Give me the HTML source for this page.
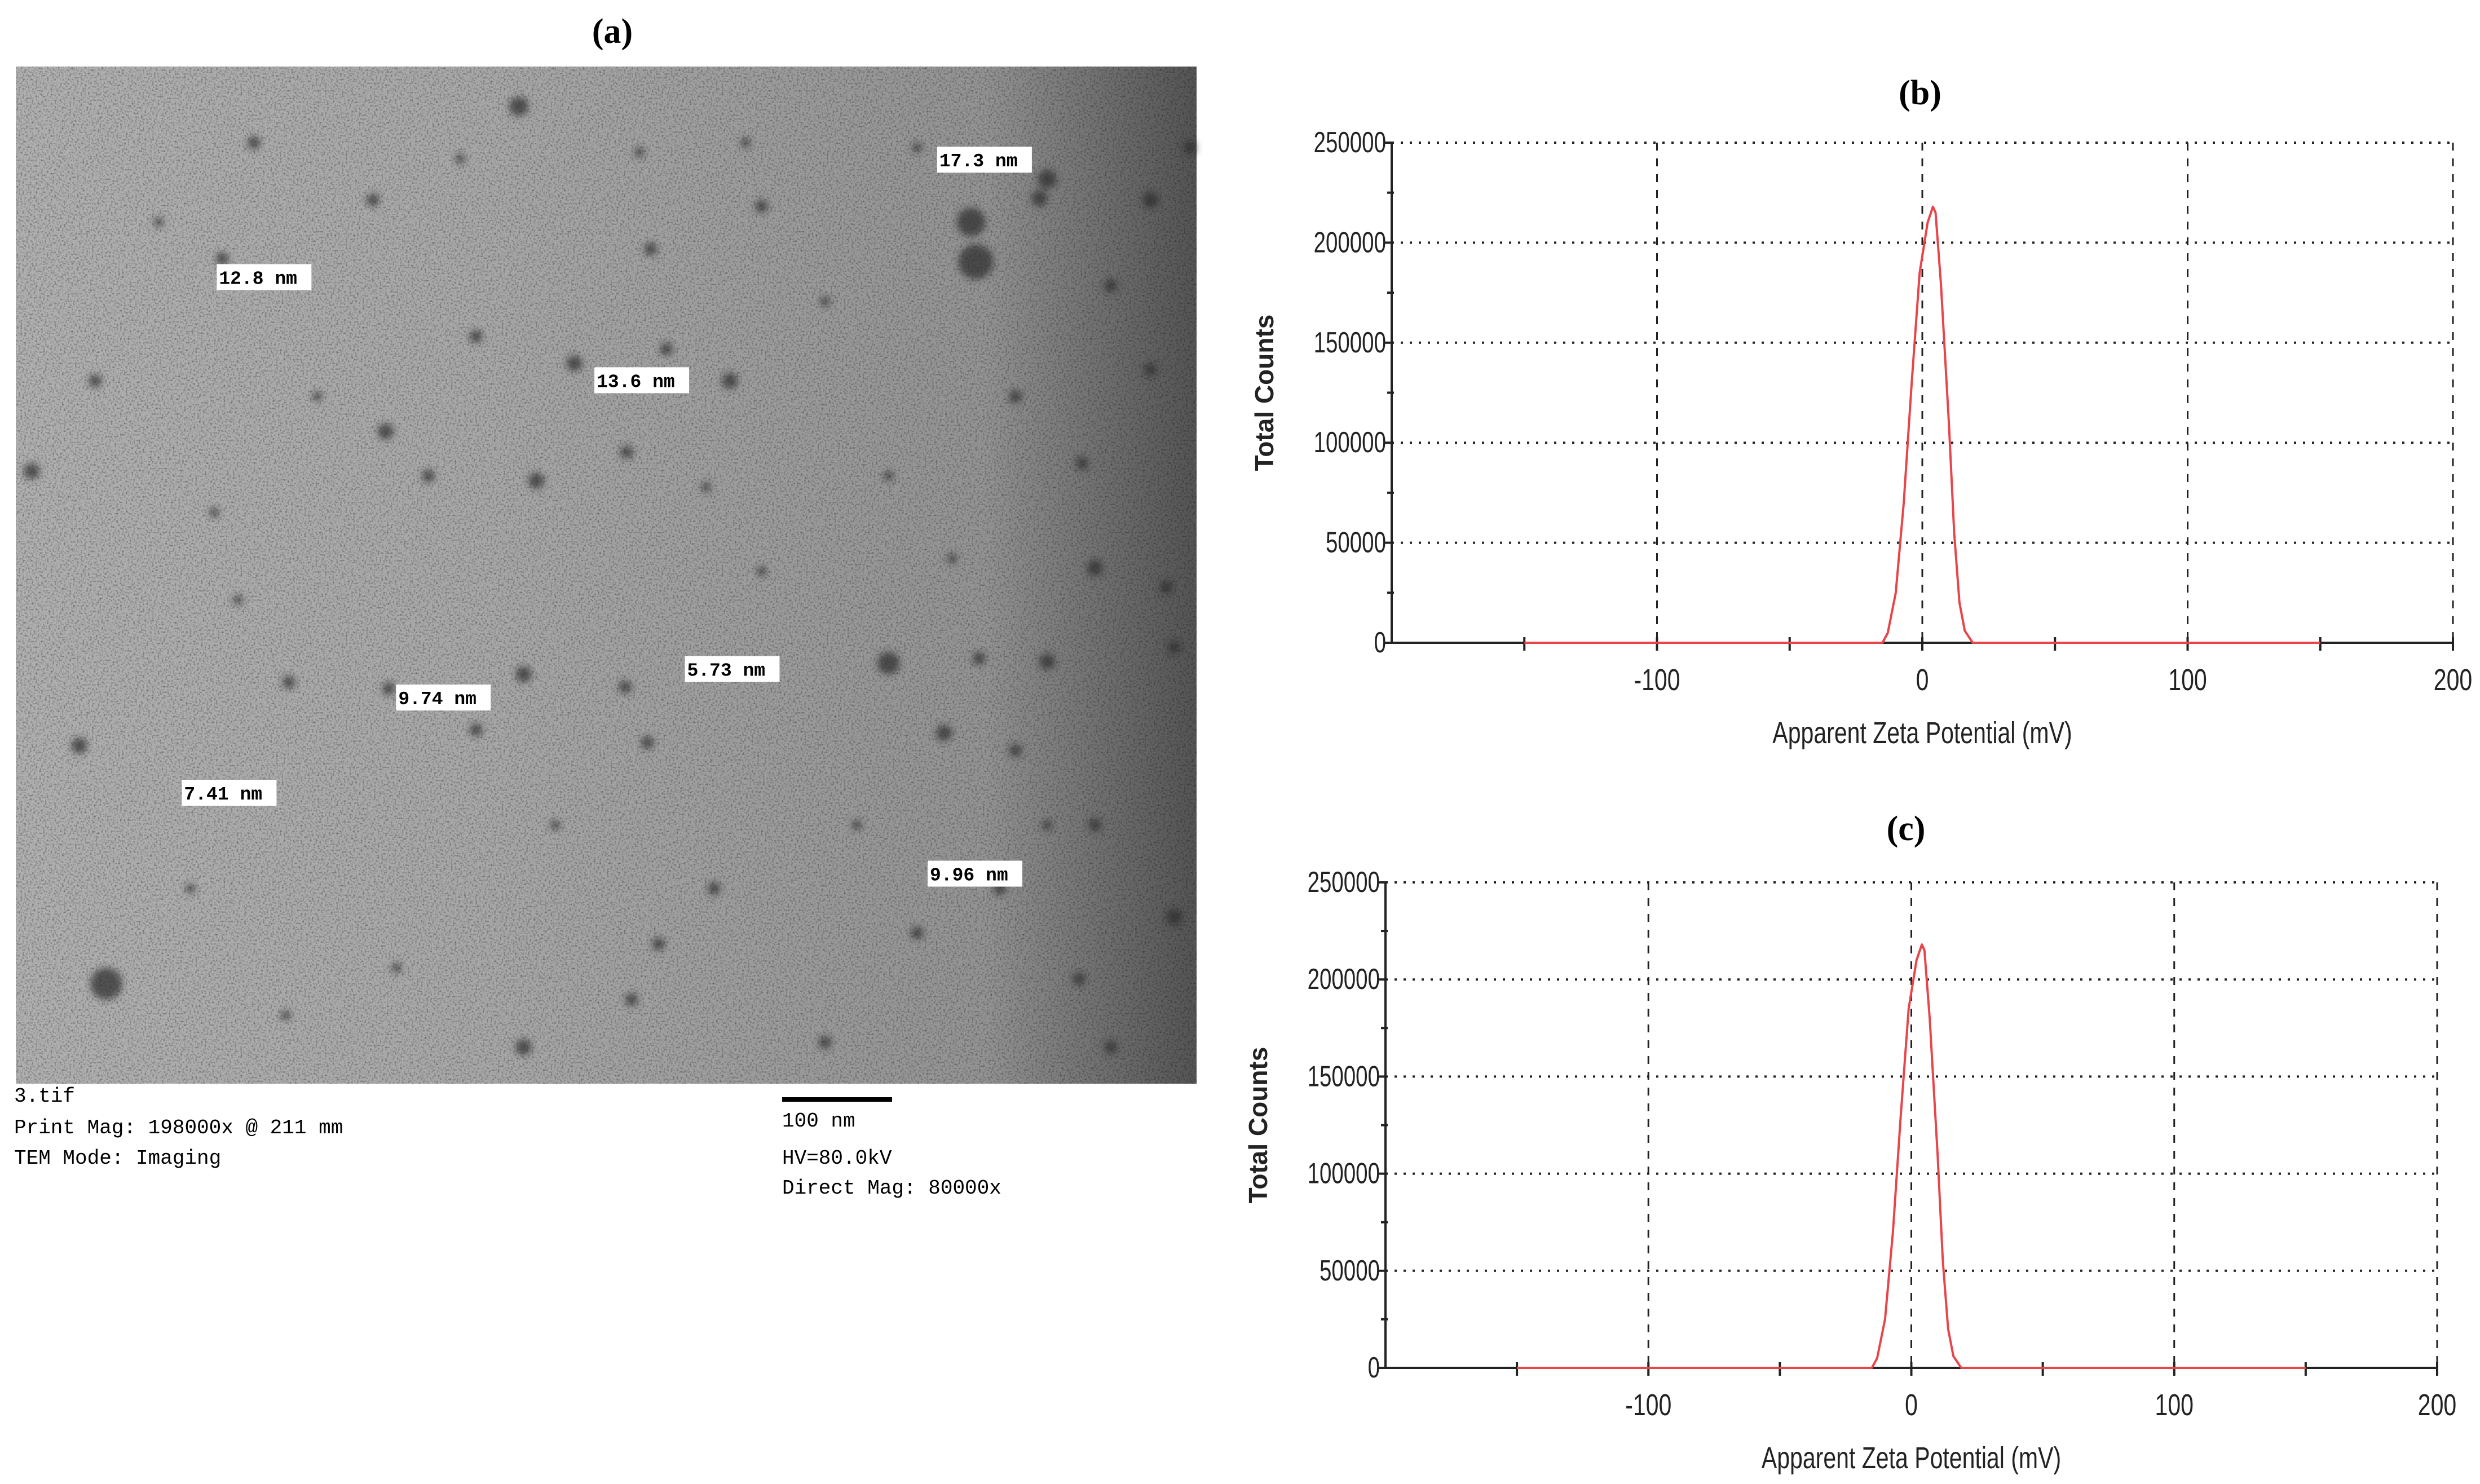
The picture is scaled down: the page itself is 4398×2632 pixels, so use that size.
<!DOCTYPE html>
<html><head><meta charset="utf-8"><style>
html,body{margin:0;padding:0;background:#fff;}
svg{display:block;}
</style></head><body>
<svg id="fig" width="4398" height="2632" viewBox="0 0 4398 2632" xmlns="http://www.w3.org/2000/svg">
<defs>
<filter id="noise" x="0" y="0" width="100%" height="100%">
<feTurbulence type="fractalNoise" baseFrequency="0.3" numOctaves="2" seed="3" result="t"/>
<feColorMatrix type="matrix" in="t" values="0 0 0 0 0  0 0 0 0 0  0 0 0 0 0  1.6 0 0 0 -0.75"/>
</filter>
<linearGradient id="temgrad" x1="0" x2="1" y1="0" y2="0">
<stop offset="0" stop-color="#b0b0b0"/><stop offset="0.4" stop-color="#a8a8a8"/>
<stop offset="0.82" stop-color="#949494"/><stop offset="1" stop-color="#555"/>
</linearGradient>
<filter id="blur"><feGaussianBlur stdDeviation="6"/></filter>
</defs>
<g id="panel-a">
<text x="1086" y="76" font-family="Liberation Serif, serif" font-weight="bold" font-size="62" text-anchor="middle">(a)</text>
<rect x="28" y="118" width="2094" height="1804" fill="url(#temgrad)"/>
<rect x="28" y="118" width="2094" height="1804" filter="url(#noise)" fill="#000" opacity="0.6"/>
<g id="particles" filter="url(#blur)"></g>
<g id="labels"></g>
<g font-family="Liberation Mono, monospace" font-size="36" fill="#000">
<text x="25" y="1954">3.tif</text>
<text x="25" y="2010">Print Mag: 198000x @ 211 mm</text>
<text x="25" y="2064">TEM Mode: Imaging</text>
<rect x="1387" y="1946" width="195" height="8" fill="#000"/>
<text x="1387" y="1998">100 nm</text>
<text x="1387" y="2064">HV=80.0kV</text>
<text x="1387" y="2117">Direct Mag: 80000x</text>
</g>
</g>
<g id="chart-b"></g>
<g id="chart-c"></g>
</svg>
<script>
const xTicks = [-100, 0, 100, 200];
const xMinor = [-150, -50, 50, 150];
const yTicks = [0, 50000, 100000, 150000, 200000, 250000];
const yMinor = [25000, 75000, 125000, 175000, 225000];
const zetaB = [-150, -20, -15, -13, -10, -7, -4, -1, 2, 4, 5, 7, 10, 12, 14, 16, 19, 25, 150];
const countsB = [0, 0, 0, 5000, 25000, 70000, 130000, 185000, 210000, 218000, 215000, 180000, 110000, 55000, 20000, 6000, 0, 0, 0];
const zetaC = [-150, -20, -15, -13, -10, -7, -4, -1, 2, 4, 5, 7, 10, 12, 14, 16, 19, 25, 150];
const countsC = [0, 0, 0, 5000, 25000, 70000, 130000, 185000, 210000, 218000, 215000, 180000, 110000, 55000, 20000, 6000, 0, 0, 0];

const NS = 'http://www.w3.org/2000/svg';
function mk(tag, attrs, parent) {
  const e = document.createElementNS(NS, tag);
  for (const k in attrs) e.setAttribute(k, attrs[k]);
  parent.appendChild(e); return e;
}

function drawChart(gid, L, R, T, B, xs, ys, label, labelX, labelY) {
  const g = document.getElementById(gid);
  const sx = v => L + (v + 200) / 400 * (R - L);
  const sy = v => B - v / 250000 * (B - T);
  const t = mk('text', {x: labelX, y: labelY, 'font-family': 'Liberation Serif, serif', 'font-weight': 'bold', 'font-size': '62', 'text-anchor': 'middle'}, g);
  
  
  t.textContent = label;
  yTicks.forEach(v => {
    if (v > 0) {
      const l = mk('line', {x1: L, x2: R, y1: sy(v), y2: sy(v), stroke: '#222', 'stroke-width': 4, 'stroke-dasharray': '4 12'}, g);
      
      
    }
    const tk = mk('line', {x1: L - 12, x2: L, y1: sy(v), y2: sy(v), stroke: '#222', 'stroke-width': 4}, g);
    
    
    const tl = mk('text', {x: L - 10, y: sy(v) + 17, 'font-family': 'Liberation Sans, sans-serif', 'font-size': '52', 'text-anchor': 'end', transform: `translate(${L - 10},0) scale(0.74,1) translate(${-(L - 10)},0)`, fill: '#222'}, g);
    
    
    tl.textContent = v;
  });
  yMinor.forEach(v => {
    const tk = mk('line', {x1: L - 8, x2: L + 4, y1: sy(v), y2: sy(v), stroke: '#222', 'stroke-width': 4}, g);
    
    
  });
  xTicks.forEach(v => {
    const l = mk('line', {x1: sx(v), x2: sx(v), y1: T, y2: B, stroke: '#222', 'stroke-width': 3, 'stroke-dasharray': '14 14'}, g);
    
    
    const tk = mk('line', {x1: sx(v), x2: sx(v), y1: B - 10, y2: B + 14, stroke: '#222', 'stroke-width': 4}, g);
    
    
    const tl = mk('text', {x: sx(v), y: B + 84, 'font-family': 'Liberation Sans, sans-serif', 'font-size': '54', 'text-anchor': 'middle', transform: `translate(${sx(v)},0) scale(0.76,1) translate(${-sx(v)},0)`, fill: '#222'}, g);
    
    
    tl.textContent = v;
  });
  xMinor.forEach(v => {
    const tk = mk('line', {x1: sx(v), x2: sx(v), y1: B - 10, y2: B + 14, stroke: '#222', 'stroke-width': 4}, g);
    
    
  });
  const ya = mk('line', {x1: L, x2: L, y1: T, y2: B, stroke: '#222', 'stroke-width': 4}, g);
  
  
  const xa = mk('line', {x1: L, x2: R, y1: B, y2: B, stroke: '#222', 'stroke-width': 4}, g);
  
  
  const d = xs.map((x, i) => (i ? 'L' : 'M') + sx(x).toFixed(1) + ' ' + sy(ys[i]).toFixed(1)).join(' ');
  const p = mk('path', {d: d, fill: 'none', stroke: '#e8454a', 'stroke-width': 4, 'stroke-linejoin': 'round'}, g);
  
  
  const yl = mk('text', {x: 0, y: 0, 'font-family': 'Liberation Sans, sans-serif', 'font-weight': 'bold', 'font-size': '46', 'text-anchor': 'middle', fill: '#222', transform: `translate(${L - 210},${(T + B) / 2}) rotate(-90)`}, g);
  
  
  yl.textContent = 'Total Counts';
  const cx = (L + R) / 2;
  const xl = mk('text', {x: cx, y: B + 178, 'font-family': 'Liberation Sans, sans-serif', 'font-size': '54', 'text-anchor': 'middle', fill: '#222', transform: `translate(${cx},0) scale(0.76,1) translate(${-cx},0)`}, g);
  
  
  xl.textContent = 'Apparent Zeta Potential (mV)';
}
drawChart('chart-b', 2468, 4350, 253, 1140, zetaB, countsB, '(b)', 3405, 185);
drawChart('chart-c', 2457, 4322, 1565, 2426, zetaC, countsC, '(c)', 3380, 1490);

// TEM decoration (particles & size labels, display coords x2.814)
const S = 2.814;
const parts = [[327,67,6],[403,96,3],[578,93,3],[660,113,6],[655,125,5],[725,126,5],[140,163,4],[235,126,4],[300,212,4],[362,229,5],[420,220,4],[460,240,5],[410,157,4],[520,190,3],[612,140,9],[615,165,11],[20,297,5],[135,323,3],[243,272,5],[338,303,5],[395,285,4],[445,307,3],[560,418,7],[617,415,4],[660,417,5],[690,358,5],[740,408,4],[182,430,4],[245,434,4],[330,425,5],[394,433,4],[408,468,4],[595,462,5],[640,473,4],[690,520,4],[740,578,5],[660,520,3],[67,620,10],[398,630,4],[415,595,4],[520,657,4],[578,588,4],[680,617,4],[735,370,4],[600,352,3],[682,292,4],[50,470,5],[150,378,3],[725,233,4],[750,93,4],[160,90,4],[290,100,3],[470,90,3],[480,130,4],[100,140,3],[60,240,4],[200,250,3],[270,300,4],[480,360,3],[300,460,4],[350,520,3],[450,560,4],[250,610,3],[120,560,3],[560,300,3],[640,250,4],[700,180,4],[700,660,4],[330,660,5],[180,640,3],[540,520,3],[630,560,4]];
const pg = document.getElementById('particles');
parts.forEach(p => {
  const c = mk('circle', {cx: p[0] * S, cy: p[1] * S, r: p[2] * S, fill: '#2a2a2a', opacity: 0.7}, pg);
  
  
});
const labs = [['17.3 nm',592,101],['12.8 nm',138,175],['13.6 nm',376,240],['5.73 nm',433,422],['9.74 nm',251,440],['7.41 nm',116,500],['9.96 nm',586,551]];
const lg = document.getElementById('labels');
labs.forEach(l => {
  const r = mk('rect', {x: l[1] * S - 4, y: l[2] * S - 24, width: 168, height: 46, fill: '#fff'}, lg);
  
  
  const t = mk('text', {x: l[1] * S, y: l[2] * S + 11, 'font-family': 'Liberation Mono, monospace', 'font-size': '33', 'font-weight': 'bold', fill: '#000'}, lg);
  
  
  t.textContent = l[0];
});
</script>
</body></html>
